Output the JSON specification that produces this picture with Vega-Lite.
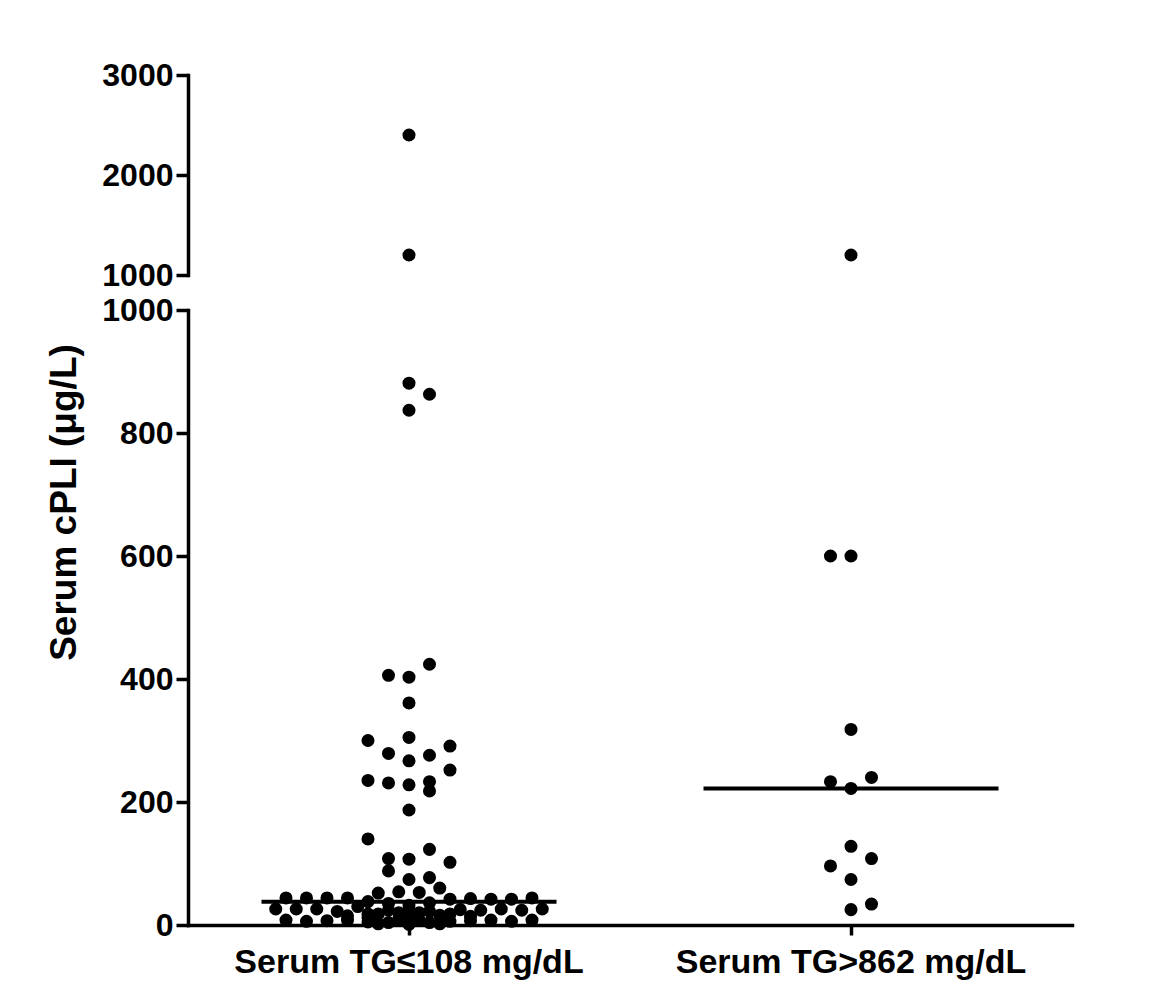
{
  "$schema": "https://vega.github.io/schema/vega-lite/v6.json",
  "padding": {"left": 44, "top": 59, "right": 5, "bottom": 5},
  "background": "white",
  "bounds": "flush",
  "datasets": {
    "points": [
      {"group": "Serum TG≤108 mg/dL", "cpli": 2400, "slot": 0},
      {"group": "Serum TG≤108 mg/dL", "cpli": 1200, "slot": 0},
      {"group": "Serum TG≤108 mg/dL", "cpli": 881, "slot": 0},
      {"group": "Serum TG≤108 mg/dL", "cpli": 863, "slot": 1},
      {"group": "Serum TG≤108 mg/dL", "cpli": 837, "slot": 0},
      {"group": "Serum TG≤108 mg/dL", "cpli": 424, "slot": 1},
      {"group": "Serum TG≤108 mg/dL", "cpli": 406, "slot": -1},
      {"group": "Serum TG≤108 mg/dL", "cpli": 403, "slot": 0},
      {"group": "Serum TG≤108 mg/dL", "cpli": 361, "slot": 0},
      {"group": "Serum TG≤108 mg/dL", "cpli": 305, "slot": 0},
      {"group": "Serum TG≤108 mg/dL", "cpli": 300, "slot": -2},
      {"group": "Serum TG≤108 mg/dL", "cpli": 291, "slot": 2},
      {"group": "Serum TG≤108 mg/dL", "cpli": 279, "slot": -1},
      {"group": "Serum TG≤108 mg/dL", "cpli": 276, "slot": 1},
      {"group": "Serum TG≤108 mg/dL", "cpli": 267, "slot": 0},
      {"group": "Serum TG≤108 mg/dL", "cpli": 252, "slot": 2},
      {"group": "Serum TG≤108 mg/dL", "cpli": 235, "slot": -2},
      {"group": "Serum TG≤108 mg/dL", "cpli": 233, "slot": 1},
      {"group": "Serum TG≤108 mg/dL", "cpli": 231, "slot": -1},
      {"group": "Serum TG≤108 mg/dL", "cpli": 228, "slot": 0},
      {"group": "Serum TG≤108 mg/dL", "cpli": 218, "slot": 1},
      {"group": "Serum TG≤108 mg/dL", "cpli": 187, "slot": 0},
      {"group": "Serum TG≤108 mg/dL", "cpli": 140, "slot": -2},
      {"group": "Serum TG≤108 mg/dL", "cpli": 123, "slot": 1},
      {"group": "Serum TG≤108 mg/dL", "cpli": 108, "slot": -1},
      {"group": "Serum TG≤108 mg/dL", "cpli": 107, "slot": 0},
      {"group": "Serum TG≤108 mg/dL", "cpli": 102, "slot": 2},
      {"group": "Serum TG≤108 mg/dL", "cpli": 88, "slot": -1},
      {"group": "Serum TG≤108 mg/dL", "cpli": 77, "slot": 1},
      {"group": "Serum TG≤108 mg/dL", "cpli": 74, "slot": 0},
      {"group": "Serum TG≤108 mg/dL", "cpli": 60, "slot": 1.5},
      {"group": "Serum TG≤108 mg/dL", "cpli": 44, "slot": -6},
      {"group": "Serum TG≤108 mg/dL", "cpli": 44, "slot": -5},
      {"group": "Serum TG≤108 mg/dL", "cpli": 44, "slot": -4},
      {"group": "Serum TG≤108 mg/dL", "cpli": 44, "slot": -3},
      {"group": "Serum TG≤108 mg/dL", "cpli": 52, "slot": -1.5},
      {"group": "Serum TG≤108 mg/dL", "cpli": 54, "slot": -0.5},
      {"group": "Serum TG≤108 mg/dL", "cpli": 53, "slot": 0.5},
      {"group": "Serum TG≤108 mg/dL", "cpli": 42, "slot": 2},
      {"group": "Serum TG≤108 mg/dL", "cpli": 43, "slot": 3},
      {"group": "Serum TG≤108 mg/dL", "cpli": 42, "slot": 4},
      {"group": "Serum TG≤108 mg/dL", "cpli": 42, "slot": 5},
      {"group": "Serum TG≤108 mg/dL", "cpli": 44, "slot": 6},
      {"group": "Serum TG≤108 mg/dL", "cpli": 38, "slot": -2},
      {"group": "Serum TG≤108 mg/dL", "cpli": 26, "slot": -6.5},
      {"group": "Serum TG≤108 mg/dL", "cpli": 26, "slot": -5.5},
      {"group": "Serum TG≤108 mg/dL", "cpli": 26, "slot": -4.5},
      {"group": "Serum TG≤108 mg/dL", "cpli": 22, "slot": -3.5},
      {"group": "Serum TG≤108 mg/dL", "cpli": 30, "slot": -2.5},
      {"group": "Serum TG≤108 mg/dL", "cpli": 35, "slot": -1},
      {"group": "Serum TG≤108 mg/dL", "cpli": 32, "slot": 0},
      {"group": "Serum TG≤108 mg/dL", "cpli": 36, "slot": 1},
      {"group": "Serum TG≤108 mg/dL", "cpli": 25, "slot": 2.5},
      {"group": "Serum TG≤108 mg/dL", "cpli": 24, "slot": 3.5},
      {"group": "Serum TG≤108 mg/dL", "cpli": 26, "slot": 4.5},
      {"group": "Serum TG≤108 mg/dL", "cpli": 24, "slot": 5.5},
      {"group": "Serum TG≤108 mg/dL", "cpli": 26, "slot": 6.5},
      {"group": "Serum TG≤108 mg/dL", "cpli": 18, "slot": -1.5},
      {"group": "Serum TG≤108 mg/dL", "cpli": 20, "slot": -0.5},
      {"group": "Serum TG≤108 mg/dL", "cpli": 20, "slot": 0.5},
      {"group": "Serum TG≤108 mg/dL", "cpli": 16, "slot": 1.5},
      {"group": "Serum TG≤108 mg/dL", "cpli": 14, "slot": 0},
      {"group": "Serum TG≤108 mg/dL", "cpli": 12, "slot": -2},
      {"group": "Serum TG≤108 mg/dL", "cpli": 18, "slot": -2},
      {"group": "Serum TG≤108 mg/dL", "cpli": 24, "slot": -1},
      {"group": "Serum TG≤108 mg/dL", "cpli": 24, "slot": 0},
      {"group": "Serum TG≤108 mg/dL", "cpli": 22, "slot": 1},
      {"group": "Serum TG≤108 mg/dL", "cpli": 18, "slot": 2},
      {"group": "Serum TG≤108 mg/dL", "cpli": 10, "slot": -0.5},
      {"group": "Serum TG≤108 mg/dL", "cpli": 8, "slot": 0.5},
      {"group": "Serum TG≤108 mg/dL", "cpli": 2, "slot": -1.5},
      {"group": "Serum TG≤108 mg/dL", "cpli": 2, "slot": 1.5},
      {"group": "Serum TG≤108 mg/dL", "cpli": 1, "slot": 0},
      {"group": "Serum TG≤108 mg/dL", "cpli": 15, "slot": -3},
      {"group": "Serum TG≤108 mg/dL", "cpli": 14, "slot": 3},
      {"group": "Serum TG≤108 mg/dL", "cpli": 8, "slot": -6},
      {"group": "Serum TG≤108 mg/dL", "cpli": 6, "slot": -5},
      {"group": "Serum TG≤108 mg/dL", "cpli": 7, "slot": -4},
      {"group": "Serum TG≤108 mg/dL", "cpli": 8, "slot": -3},
      {"group": "Serum TG≤108 mg/dL", "cpli": 5, "slot": -2},
      {"group": "Serum TG≤108 mg/dL", "cpli": 4, "slot": -1},
      {"group": "Serum TG≤108 mg/dL", "cpli": 3, "slot": 0},
      {"group": "Serum TG≤108 mg/dL", "cpli": 4, "slot": 1},
      {"group": "Serum TG≤108 mg/dL", "cpli": 6, "slot": 2},
      {"group": "Serum TG≤108 mg/dL", "cpli": 7, "slot": 3},
      {"group": "Serum TG≤108 mg/dL", "cpli": 8, "slot": 4},
      {"group": "Serum TG≤108 mg/dL", "cpli": 6, "slot": 5},
      {"group": "Serum TG≤108 mg/dL", "cpli": 8, "slot": 6},
      {"group": "Serum TG>862 mg/dL", "cpli": 1200, "slot": 0},
      {"group": "Serum TG>862 mg/dL", "cpli": 600, "slot": -1},
      {"group": "Serum TG>862 mg/dL", "cpli": 600, "slot": 0},
      {"group": "Serum TG>862 mg/dL", "cpli": 318, "slot": 0},
      {"group": "Serum TG>862 mg/dL", "cpli": 240, "slot": 1},
      {"group": "Serum TG>862 mg/dL", "cpli": 233, "slot": -1},
      {"group": "Serum TG>862 mg/dL", "cpli": 222, "slot": 0},
      {"group": "Serum TG>862 mg/dL", "cpli": 128, "slot": 0},
      {"group": "Serum TG>862 mg/dL", "cpli": 108, "slot": 1},
      {"group": "Serum TG>862 mg/dL", "cpli": 96, "slot": -1},
      {"group": "Serum TG>862 mg/dL", "cpli": 74, "slot": 0},
      {"group": "Serum TG>862 mg/dL", "cpli": 34, "slot": 1},
      {"group": "Serum TG>862 mg/dL", "cpli": 25, "slot": 0}
    ],
    "medians": [
      {"group": "Serum TG≤108 mg/dL", "median": 38},
      {"group": "Serum TG>862 mg/dL", "median": 222}
    ]
  },
  "config": {
    "view": {"stroke": null},
    "axis": {
      "grid": false,
      "domainColor": "black",
      "domainWidth": 3.5,
      "domainCap": "square",
      "tickColor": "black",
      "tickWidth": 3.5,
      "tickSize": 12,
      "labelFont": "Liberation Sans",
      "labelFontWeight": "bold",
      "labelFontSize": 32,
      "labelColor": "black",
      "labelPadding": 3,
      "labelLimit": 0,
      "titleFont": "Liberation Sans",
      "titleFontWeight": "bold",
      "titleColor": "black"
    }
  },
  "spacing": 35,
  "vconcat": [
    {
      "width": 884,
      "height": 200,
      "data": {"name": "points"},
      "transform": [{"filter": "datum.cpli > 1000"}],
      "mark": {"type": "circle", "size": 170, "color": "black", "opacity": 1},
      "encoding": {
        "x": {
          "field": "group",
          "type": "nominal",
          "sort": null,
          "scale": {"domain": ["Serum TG≤108 mg/dL", "Serum TG>862 mg/dL"], "paddingInner": 0, "paddingOuter": 0},
          "axis": null
        },
        "xOffset": {"field": "slot", "type": "quantitative", "scale": {"domain": [-10.78, 10.78]}},
        "y": {
          "field": "cpli",
          "type": "quantitative",
          "scale": {"domain": [1000, 3000], "nice": false, "zero": false},
          "axis": {"values": [1000, 2000, 3000], "title": null, "format": "d"}
        }
      }
    },
    {
      "width": 884,
      "height": 615,
      "layer": [
        {
          "data": {"name": "points"},
          "transform": [{"filter": "datum.cpli <= 1000"}],
          "mark": {"type": "circle", "size": 170, "color": "black", "opacity": 1},
          "encoding": {
            "x": {
              "field": "group",
              "type": "nominal",
              "sort": null,
              "scale": {"domain": ["Serum TG≤108 mg/dL", "Serum TG>862 mg/dL"], "paddingInner": 0, "paddingOuter": 0},
              "axis": {"title": null, "labelAngle": 0, "labelFontSize": 34, "tickSize": 10, "labelPadding": 10, "labelLimit": 0}
            },
            "xOffset": {"field": "slot", "type": "quantitative", "scale": {"domain": [-10.78, 10.78]}},
            "y": {
              "field": "cpli",
              "type": "quantitative",
              "scale": {"domain": [0, 1000], "nice": false},
              "axis": {
                "values": [0, 200, 400, 600, 800, 1000],
                "format": "d",
                "title": "Serum cPLI (μg/L)",
                "titleFontSize": 37,
                "titleAngle": -90,
                "titleAlign": "center",
                "titleBaseline": "middle",
                "titleX": -124,
                "titleY": 192
              }
            }
          }
        },
        {
          "data": {"name": "medians"},
          "mark": {"type": "tick", "color": "black", "size": 295, "thickness": 4, "opacity": 1},
          "encoding": {
            "x": {"field": "group", "type": "nominal", "sort": null},
            "y": {"field": "median", "type": "quantitative"}
          }
        }
      ]
    }
  ]
}
